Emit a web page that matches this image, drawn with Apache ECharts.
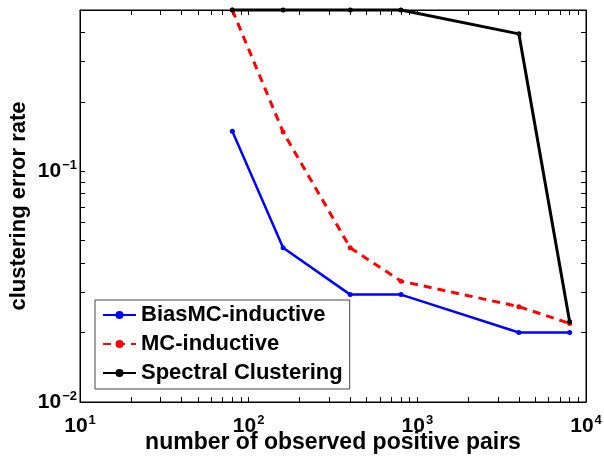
<!DOCTYPE html>
<html>
<head>
<meta charset="utf-8">
<script src="https://cdn.jsdelivr.net/npm/echarts@6/dist/echarts.min.js"></script>
<style>
  html, body { margin: 0; padding: 0; background: #fff; }
  #chart { width: 604px; height: 458px; }
</style>
</head>
<body>
<div id="chart"></div>
<script>
// observed positive pairs (x) and clustering error rate per method
const pairs = [80, 160, 400, 800, 4000, 8000];
const biasMC = [0.149, 0.0466, 0.0292, 0.0292, 0.0200, 0.0200];
const mcInductive = [0.5, 0.148, 0.0466, 0.0334, 0.0259, 0.0219];
const spectral = [0.5, 0.5, 0.5, 0.5, 0.394, 0.0223];

const xDecades = [10, 100, 1000, 10000];
const yDecades = [0.01, 0.1];
const yTop = 0.5;

const FONT = '"Liberation Sans", Arial, sans-serif';

// minor ticks 2..9 of every decade
function minorTicks(decades, top) {
    const out = [];
    decades.forEach(function (d) {
        for (let k = 1; k <= 9; k++) {
            const v = +(k * d).toPrecision(6);
            if (v <= top) out.push(v);
        }
    });
    return out;
}
const xTickAll = minorTicks(xDecades, xDecades[xDecades.length - 1]);
const yTickAll = minorTicks(yDecades, yTop);

function powLabel(v) {
    const e = Math.round(Math.log10(v));
    if (Math.abs(Math.log10(v) - e) > 1e-6) return '';
    return '{b|10}{e|' + (e < 0 ? '\u2212' + (-e) : e) + '}';
}

const richText = {
    b: { fontFamily: FONT, fontWeight: 'bold', fontSize: 21, color: '#000' },
    e: { fontFamily: FONT, fontWeight: 'bold', fontSize: 13, color: '#000', padding: [0, 0, 12, 1] }
};

function zip(xs, ys) {
    return xs.map(function (x, i) { return [x, ys[i]]; });
}

const chart = echarts.init(document.getElementById('chart'));
const option = {
    animation: false,
    backgroundColor: '#fff',
    grid: {
        left: 80, right: 18, top: 10, bottom: 56,
        outerBoundsMode: 'none',
        show: true, borderColor: '#000', borderWidth: 1
    },
    legend: {
        orient: 'vertical',
        left: 95, top: 300,
        padding: [4, 7, 5, 7],
        itemWidth: 33, itemHeight: 10, itemGap: 7,
        backgroundColor: '#fff',
        borderColor: '#444', borderWidth: 1,
        textStyle: { fontFamily: FONT, fontWeight: 'bold', fontSize: 22, color: '#000' },
        data: ['BiasMC-inductive', 'MC-inductive', 'Spectral Clustering']
    },
    xAxis: [
        {
            type: 'log', logBase: 10, min: 10, max: 10000, position: 'bottom',
            name: 'number of observed positive pairs', nameLocation: 'middle', nameGap: 29,
            nameMoveOverlap: false,
            nameTextStyle: { fontFamily: FONT, fontWeight: 'bold', fontSize: 23, color: '#000' },
            axisLine: { lineStyle: { color: '#000', width: 1 } },
            axisTick: { inside: true, length: 5, customValues: xTickAll, lineStyle: { color: '#000' } },
            axisLabel: { customValues: xDecades, margin: 12, formatter: powLabel, rich: richText },
            splitLine: { show: false }
        },
        {
            type: 'log', logBase: 10, min: 10, max: 10000, position: 'top',
            axisLine: { lineStyle: { color: '#000', width: 1 } },
            axisTick: { inside: true, length: 5, customValues: xTickAll, lineStyle: { color: '#000' } },
            axisLabel: { show: false },
            splitLine: { show: false }
        }
    ],
    yAxis: [
        {
            type: 'log', logBase: 10, min: 0.01, max: yTop, position: 'left',
            name: 'clustering error rate', nameLocation: 'middle', nameGap: 50,
            nameMoveOverlap: false,
            nameTextStyle: { fontFamily: FONT, fontWeight: 'bold', fontSize: 22, color: '#000' },
            axisLine: { lineStyle: { color: '#000', width: 1 } },
            axisTick: { inside: true, length: 5, customValues: yTickAll, lineStyle: { color: '#000' } },
            axisLabel: { customValues: yDecades, margin: 3, formatter: powLabel, rich: richText },
            splitLine: { show: false }
        },
        {
            type: 'log', logBase: 10, min: 0.01, max: yTop, position: 'right',
            axisLine: { lineStyle: { color: '#000', width: 1 } },
            axisTick: { inside: true, length: 5, customValues: yTickAll, lineStyle: { color: '#000' } },
            axisLabel: { show: false },
            splitLine: { show: false }
        }
    ],
    series: [
        {
            name: 'BiasMC-inductive', type: 'line', data: zip(pairs, biasMC),
            symbol: 'circle', symbolSize: 5, clip: false,
            lineStyle: { color: '#0000ff', width: 2.5 },
            itemStyle: { color: '#0000ff' }
        },
        {
            name: 'MC-inductive', type: 'line', data: zip(pairs, mcInductive),
            symbol: 'circle', symbolSize: 5, clip: false,
            lineStyle: { color: '#ff0000', width: 3, type: [8, 6] },
            itemStyle: { color: '#ff0000' }
        },
        {
            name: 'Spectral Clustering', type: 'line', data: zip(pairs, spectral),
            symbol: 'circle', symbolSize: 5, clip: false,
            lineStyle: { color: '#000', width: 3 },
            itemStyle: { color: '#000' }
        }
    ]
};
chart.setOption(option);
</script>
</body>
</html>
